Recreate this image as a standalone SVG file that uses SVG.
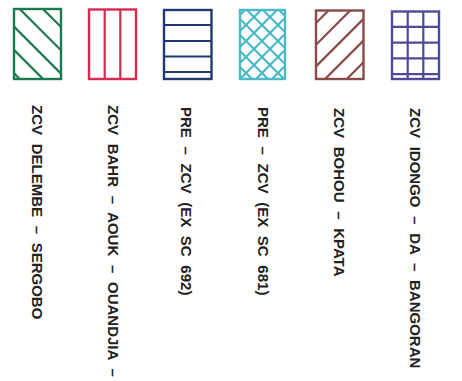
<svg xmlns="http://www.w3.org/2000/svg" width="462" height="381" viewBox="0 0 462 381">
<style>
.box{fill:none;stroke-width:2.4}
.h{fill:none;stroke-width:2.2}
.lbl{font-family:"Liberation Sans",Arial,sans-serif;font-size:15px;font-weight:bold;fill:#222;word-spacing:4.5px}
.g{stroke:#1e7a4e}.r{stroke:#d62a50}.n{stroke:#1f3a70}.c{stroke:#4cb8c8}.b{stroke:#8a4a4a}.p{stroke:#4e4c96}
</style>
<defs>
<clipPath id="c1"><rect x="14" y="9" width="47" height="70"/></clipPath>
<clipPath id="c4"><rect x="240" y="10" width="45" height="69"/></clipPath>
<clipPath id="c5"><rect x="316" y="10.5" width="47.5" height="68.5"/></clipPath>
</defs>
<rect width="462" height="381" fill="#fff"/>
<g id="legend1">
<g clip-path="url(#c1)" class="h g">
<path d="M-26,-60 L120,86 M-49.3,-60 L96.7,86 M-72.6,-60 L73.4,86 M-95.9,-60 L50.1,86 M-119.2,-60 L26.8,86"/>
</g>
<rect class="box g" x="14" y="9" width="47" height="70"/>
<text class="lbl" transform="translate(32,105) rotate(90)">ZCV DELEMBE – SERGOBO</text>
</g>
<g id="legend2">
<path class="h r" d="M104.7,9.5 V79 M120.3,9.5 V79"/>
<rect class="box r" x="89" y="9.5" width="47" height="69.5"/>
<text class="lbl" transform="translate(108,105) rotate(90)">ZCV BAHR – AOUK – OUANDJIA –</text>
</g>
<g id="legend3">
<path class="h n" d="M164,25 H211.5 M164,41 H211.5 M164,56.5 H211.5 M164,72 H211.5"/>
<rect class="box n" x="164" y="10" width="47.5" height="69"/>
<text class="lbl" transform="translate(181,107) rotate(90)">PRE – ZCV (EX SC 692)</text>
</g>
<g id="legend4">
<g clip-path="url(#c4)" class="h c">
<path d="M173,0 L263,90 M189,0 L279,90 M205,0 L295,90 M221,0 L311,90 M237,0 L327,90 M253,0 L343,90 M269,0 L359,90 M157,0 L247,90"/>
<path d="M255,0 L165,90 M271,0 L181,90 M287,0 L197,90 M303,0 L213,90 M319,0 L229,90 M335,0 L245,90 M351,0 L261,90 M367,0 L277,90"/>
</g>
<rect class="box c" x="240" y="10" width="45" height="69"/>
<text class="lbl" transform="translate(258,107) rotate(90)">PRE – ZCV (EX SC 681)</text>
</g>
<g id="legend5">
<g clip-path="url(#c5)" class="h b">
<path d="M339,0 L249,90 M360.7,0 L270.7,90 M382.4,0 L292.4,90 M404.1,0 L314.1,90 M425.8,0 L335.8,90"/>
</g>
<rect class="box b" x="316" y="10.5" width="47.5" height="68.5"/>
<text class="lbl" transform="translate(334,108) rotate(90)">ZCV BOHOU – KPATA</text>
</g>
<g id="legend6">
<path class="h p" d="M407.7,11.5 V79 M423.3,11.5 V79 M392,26.8 H439 M392,42.6 H439 M392,58.4 H439 M392,74.1 H439"/>
<rect class="box p" x="392" y="11.5" width="47" height="67.5"/>
<text class="lbl" transform="translate(410,108) rotate(90)">ZCV IDONGO – DA – BANGORAN</text>
</g>
<g id="connectors"/>
</svg>
